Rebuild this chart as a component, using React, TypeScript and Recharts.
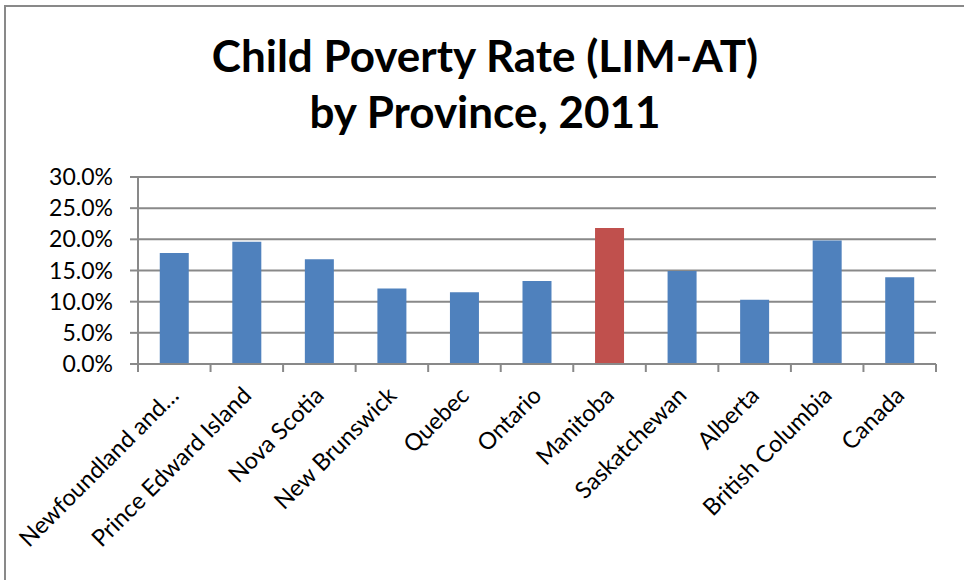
import { Bar, BarChart, CartesianGrid, Cell, XAxis, YAxis } from "recharts";

// Values (share of children, LIM-AT, 2011).
const provinces = [
  "Newfoundland and…",
  "Prince Edward Island",
  "Nova Scotia",
  "New Brunswick",
  "Quebec",
  "Ontario",
  "Manitoba",
  "Saskatchewan",
  "Alberta",
  "British Columbia",
  "Canada",
];
const povertyRates = [
  0.178, 0.196, 0.168, 0.121, 0.115, 0.133, 0.218, 0.149, 0.103, 0.198, 0.139,
];
const highlighted = "Manitoba";
const yTicks = [0, 0.05, 0.1, 0.15, 0.2, 0.25, 0.3];
const titleLines = ["Child Poverty Rate (LIM-AT)", "by Province, 2011"];

const data = provinces.map((name, i) => ({ name, rate: povertyRates[i] }));

const WIDTH = 964;
const HEIGHT = 580;
const PLOT_LEFT = 138;
const PLOT_RIGHT = 936;
const PLOT_TOP = 177;
const PLOT_BOTTOM = 364;
const BAND = (PLOT_RIGHT - PLOT_LEFT) / provinces.length;

const GREY = "#898989";
const BLUE = "#4f81bd";
const RED = "#c0504d";
const FONT = "Lato, 'Open Sans', sans-serif";

function formatPercent(value: number) {
  return `${(value * 100).toFixed(1)}%`;
}

// Excel-style category axis: tick marks sit between categories and the
// labels are rotated 45° with their end just right of the bar centre.
function CategoryTick(props: any) {
  const { x, y, payload, index } = props;
  const left = x - BAND / 2;
  const right = x + BAND / 2;
  return (
    <g>
      <line x1={left} y1={y} x2={left} y2={y + 8} stroke={GREY} strokeWidth={2} />
      {index === provinces.length - 1 ? (
        <line x1={right} y1={y} x2={right} y2={y + 8} stroke={GREY} strokeWidth={2} />
      ) : null}
      <text
        transform={`translate(${x + 6},${y + 33}) rotate(-45)`}
        textAnchor="end"
        fontSize={23.5}
        fontFamily={FONT}
        fill="#000"
      >
        {payload.value}
      </text>
    </g>
  );
}

export default function App() {
  return (
    <div
      style={{
        position: "absolute",
        left: 0,
        top: 0,
        width: WIDTH,
        height: HEIGHT,
        overflow: "hidden",
        background: "#fff",
      }}
    >
      <div
        style={{
          position: "absolute",
          left: 4,
          top: 5,
          width: 1200,
          height: 1200,
          border: `2px solid ${GREY}`,
        }}
      />
      <svg
        width={WIDTH}
        height={150}
        style={{ position: "absolute", left: 0, top: 0 }}
      >
        {titleLines.map((line, i) => (
          <text
            key={line}
            x={485}
            y={72 + i * 56}
            textAnchor="middle"
            fontFamily={FONT}
            fontWeight={700}
            fontSize={44}
            fill="#000"
          >
            {line}
          </text>
        ))}
      </svg>
      <div style={{ position: "absolute", left: 0, top: 0 }}>
        <BarChart
          width={WIDTH}
          height={HEIGHT}
          data={data}
          margin={{
            top: PLOT_TOP,
            right: WIDTH - PLOT_RIGHT,
            bottom: 0,
            left: 0,
          }}
          barCategoryGap="30%"
        >
          <CartesianGrid
            vertical={false}
            stroke={GREY}
            strokeWidth={2}
            strokeDasharray=""
          />
          <XAxis
            dataKey="name"
            interval={0}
            height={HEIGHT - PLOT_BOTTOM}
            tickSize={0}
            tickMargin={0}
            tickLine={false}
            axisLine={{ stroke: GREY, strokeWidth: 2 }}
            tick={<CategoryTick />}
          />
          <YAxis
            width={PLOT_LEFT}
            domain={[0, 0.3]}
            ticks={yTicks}
            tickFormatter={formatPercent}
            tickSize={8}
            tickMargin={17}
            axisLine={{ stroke: GREY, strokeWidth: 2 }}
            tickLine={{ stroke: GREY, strokeWidth: 2 }}
            tick={{ fontSize: 23, fontFamily: FONT, fill: "#000" }}
          />
          <Bar dataKey="rate" isAnimationActive={false}>
            {data.map((entry) => (
              <Cell
                key={entry.name}
                fill={entry.name === highlighted ? RED : BLUE}
              />
            ))}
          </Bar>
        </BarChart>
      </div>
    </div>
  );
}
